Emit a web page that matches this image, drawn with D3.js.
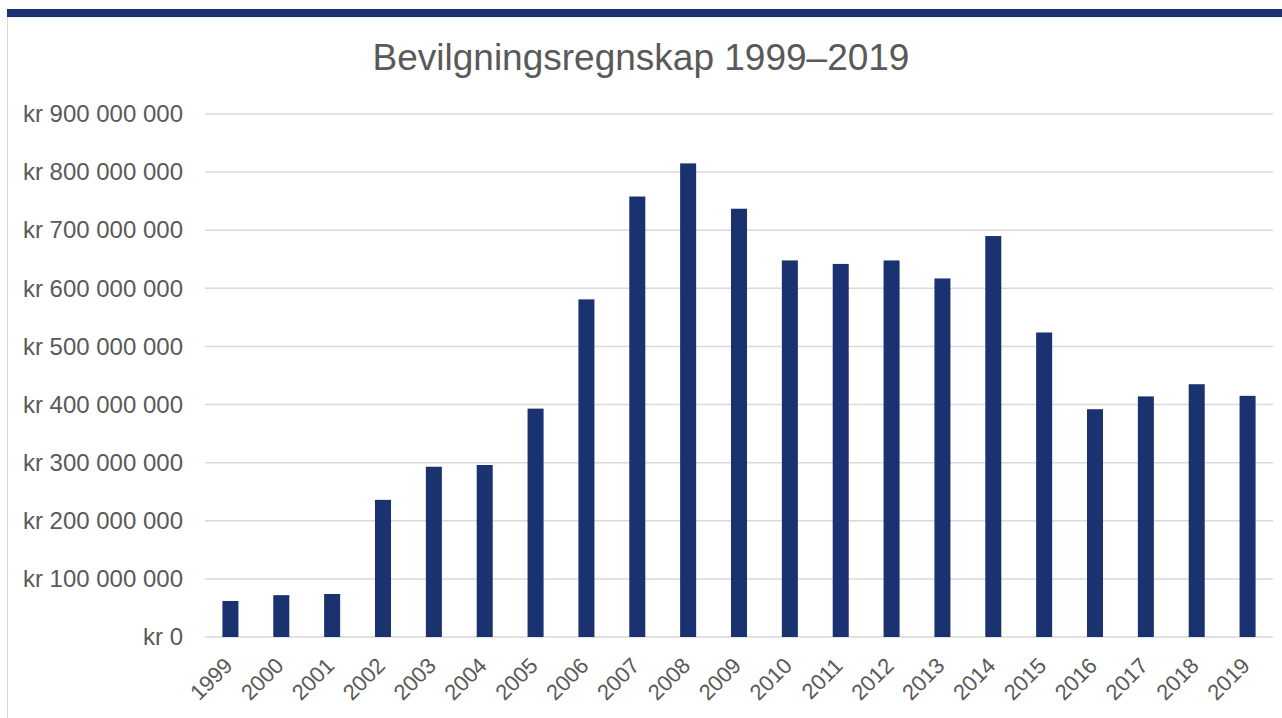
<!DOCTYPE html>
<html><head><meta charset="utf-8">
<script src="https://cdn.jsdelivr.net/npm/d3@7"></script>
<style>body{margin:0;background:#fff;}svg{display:block;font-family:"Liberation Sans",Arial,sans-serif;}</style>
</head><body>
<svg id="c" width="1282" height="718"></svg>
<script>
const years = ["1999","2000","2001","2002","2003","2004","2005","2006","2007","2008","2009","2010","2011","2012","2013","2014","2015","2016","2017","2018","2019"];
const values = [62e6,72e6,74e6,236e6,293e6,296e6,393e6,581e6,758e6,815e6,737e6,648e6,642e6,648e6,617e6,690e6,524e6,392e6,414e6,435e6,415e6];
const yTicks = [0,1e8,2e8,3e8,4e8,5e8,6e8,7e8,8e8,9e8];
const title = "Bevilgningsregnskap 1999–2019";

const svg = d3.select("#c");
// frame
svg.append("rect").attr("x",7.5).attr("y",17).attr("width",1290).attr("height",720)
  .attr("fill","#fff").attr("stroke","#d9d9d9").attr("stroke-width",1);
svg.append("rect").attr("x",7).attr("y",9).attr("width",1275).attr("height",8).attr("fill","#1a3370");

const x = d3.scaleBand().domain(years).range([205,1273]).paddingInner(0.685).paddingOuter(0.3425);
const y = d3.scaleLinear().domain([0,9e8]).range([637,114]);

const fmt = v => "kr " + (v===0 ? "0" : d3.format(",")(v).replace(/,/g," "));

// gridlines
svg.append("g").selectAll("line").data(yTicks).join("line")
  .attr("x1",205).attr("x2",1273).attr("y1",d=>y(d)).attr("y2",d=>y(d))
  .attr("stroke","#d9d9d9").attr("stroke-width",1.5);

// y axis
const yAxis = svg.append("g").attr("transform","translate(205,0)")
  .call(d3.axisLeft(y).tickValues(yTicks).tickFormat(fmt).tickSize(0).tickPadding(22));
yAxis.select(".domain").remove();
yAxis.selectAll("text").attr("font-size",24).attr("fill","#595959").attr("font-family","Liberation Sans, Arial, sans-serif");

// bars
svg.append("g").selectAll("rect").data(values).join("rect")
  .attr("x",(d,i)=>x(years[i])).attr("width",x.bandwidth())
  .attr("y",d=>y(d)).attr("height",d=>y(0)-y(d)).attr("fill","#1a3370");

// x axis
const xAxis = svg.append("g").attr("transform","translate(0,637)")
  .call(d3.axisBottom(x).tickSize(0).tickPadding(0));
xAxis.select(".domain").remove();
xAxis.selectAll("text").attr("font-size",22).attr("fill","#595959")
  .attr("font-family","Liberation Sans, Arial, sans-serif")
  .attr("text-anchor","end").attr("dy",0).attr("y",0)
  .attr("transform","translate(3.5,30) rotate(-45)");

// title
svg.append("text").attr("x",641).attr("y",70).attr("text-anchor","middle")
  .attr("font-size",37).attr("fill","#595959").text(title);
</script>
</body></html>
